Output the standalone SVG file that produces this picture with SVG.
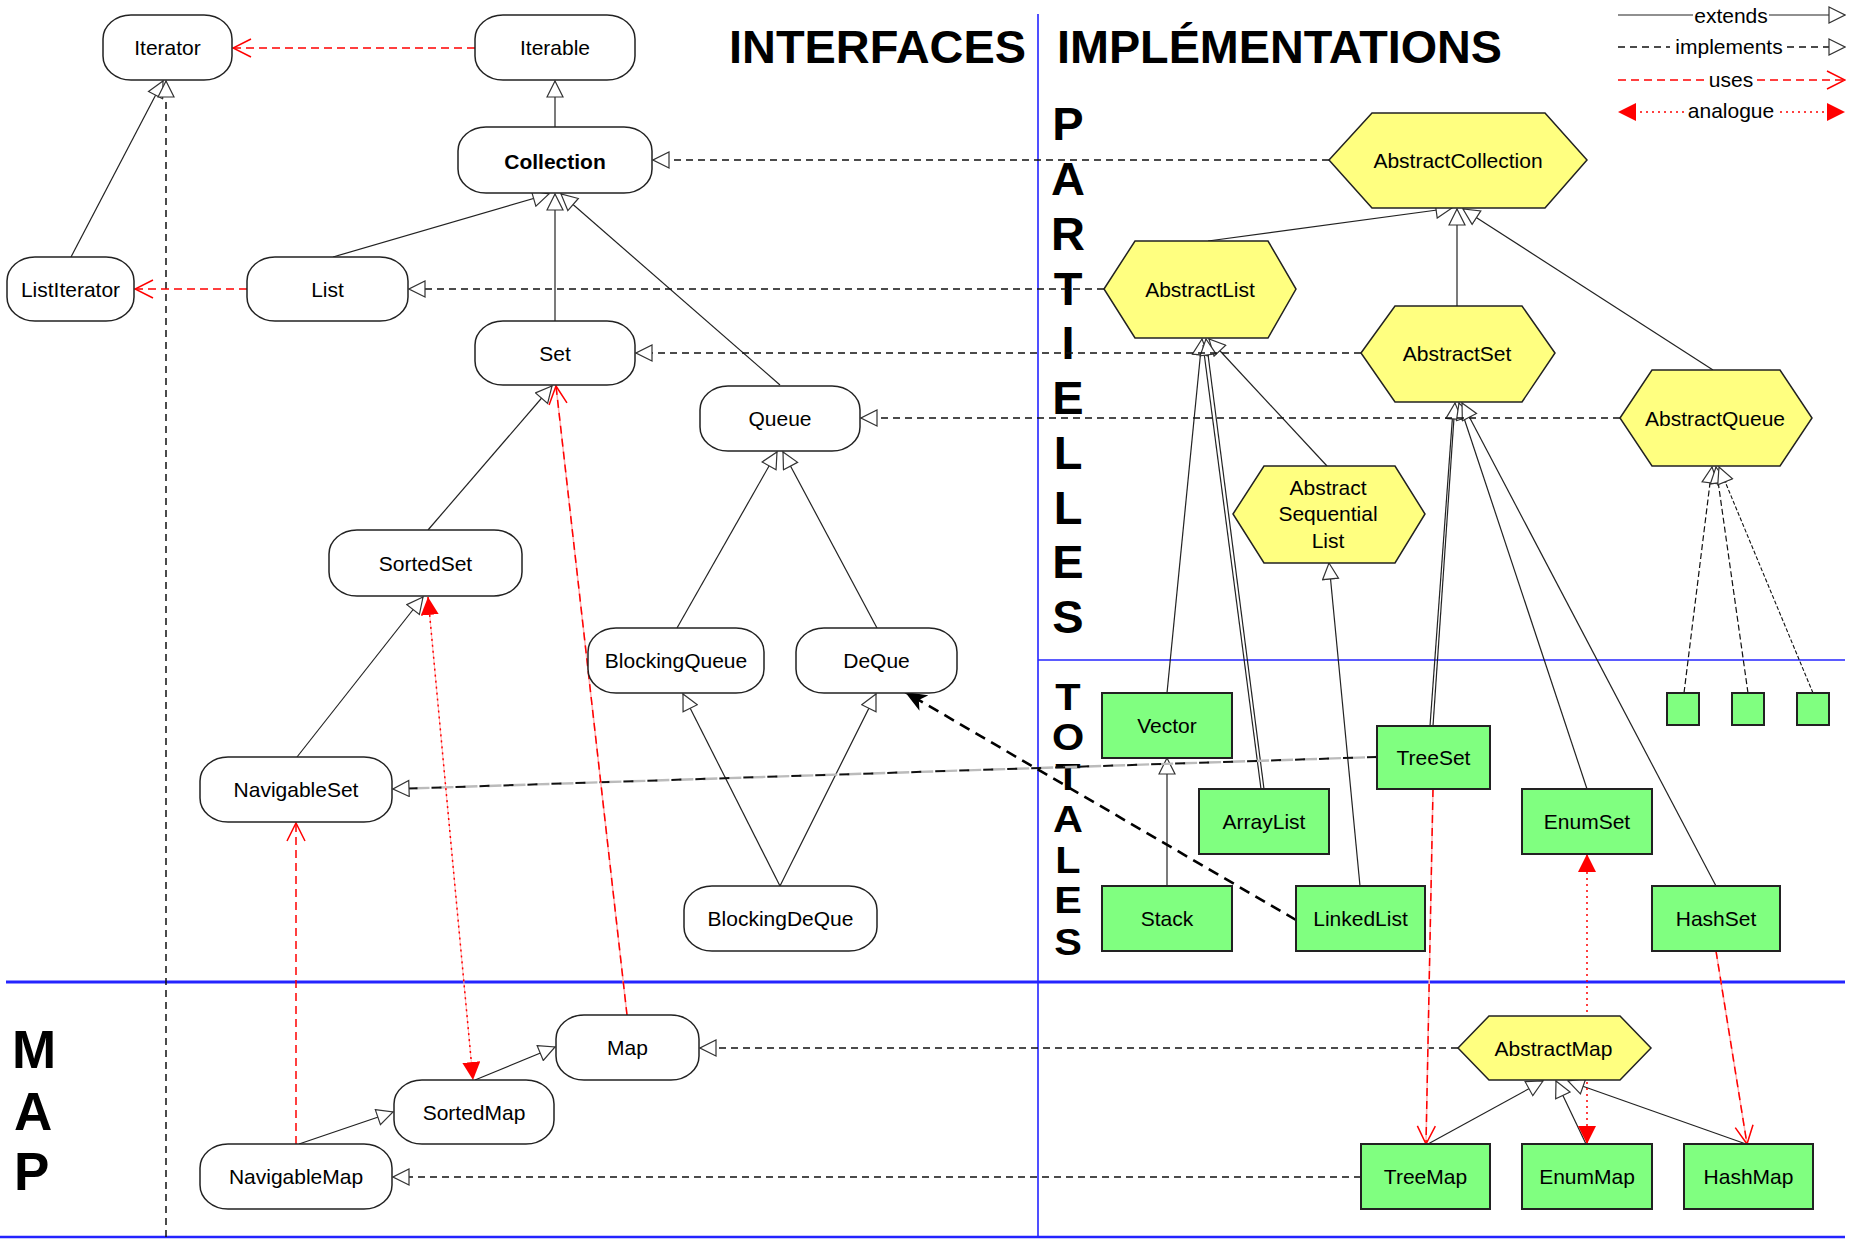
<svg xmlns="http://www.w3.org/2000/svg" width="1865" height="1239" viewBox="0 0 1865 1239">
<style>
.n{fill:#fff;stroke:#222;stroke-width:1.5}
.h{fill:#FFFF80;stroke:#222;stroke-width:1.5}
.g{fill:#80FF80;stroke:#222;stroke-width:2}
.t{font-family:"Liberation Sans",Arial,sans-serif;font-size:21px;text-anchor:middle;fill:#000}
.b{font-weight:bold}
.big{font-family:"Liberation Sans",Arial,sans-serif;font-weight:bold;fill:#000}
.ext{stroke:#222;stroke-width:1.2;fill:none;marker-end:url(#tri)}
.ln{stroke:#222;stroke-width:1.2;fill:none}
.imp{stroke:#111;stroke-width:1.5;stroke-dasharray:7 5;fill:none;marker-end:url(#tri)}
.dl{stroke:#111;stroke-width:1.5;stroke-dasharray:7 5;fill:none}
.use{stroke:#f00;stroke-width:1.5;stroke-dasharray:8 5;fill:none;marker-end:url(#open)}
.ul{stroke:#f00;stroke-width:1.5;stroke-dasharray:8 5;fill:none}
.pink{stroke:#FFB4B4;stroke-width:1.5;fill:none}
.ana{stroke:#f00;stroke-width:1.5;stroke-dasharray:2 4;fill:none;marker-start:url(#fa);marker-end:url(#fa)}
.blue{stroke:#2424FF;fill:none}
</style>
<defs>
<marker id="tri" viewBox="0 0 18 18" refX="17" refY="9" markerWidth="18" markerHeight="18" orient="auto" markerUnits="userSpaceOnUse"><path d="M1,1 L17,9 L1,17 Z" fill="#fff" stroke="#333" stroke-width="1.2"/></marker>
<marker id="open" viewBox="0 0 20 20" refX="19" refY="10" markerWidth="20" markerHeight="20" orient="auto" markerUnits="userSpaceOnUse"><path d="M1,1 L19,10 L1,19" fill="none" stroke="#f00" stroke-width="1.5"/></marker>
<marker id="fa" viewBox="0 0 18 18" refX="18" refY="9" markerWidth="18" markerHeight="18" orient="auto-start-reverse" markerUnits="userSpaceOnUse"><path d="M0,0 L18,9 L0,18 Z" fill="#f00"/></marker>
<marker id="blk" viewBox="0 0 22 18" refX="22" refY="9" markerWidth="22" markerHeight="18" orient="auto" markerUnits="userSpaceOnUse"><path d="M0,0 L22,9 L0,18 L6,9 Z" fill="#000"/></marker>
</defs>
<rect width="1865" height="1239" fill="#fff"/>

<g id="frame">
<line class="blue" x1="1038" y1="14" x2="1038" y2="1237" stroke-width="1.6"/>
<line class="blue" x1="1038" y1="660" x2="1845" y2="660" stroke-width="1.6"/>
<line class="blue" x1="6" y1="982" x2="1845" y2="982" stroke-width="3"/>
<line class="blue" x1="0" y1="1237" x2="1845" y2="1237" stroke-width="2.5"/>
</g>

<g id="titles">
<text class="big" x="729" y="63" font-size="46" textLength="297" lengthAdjust="spacingAndGlyphs">INTERFACES</text>
<text class="big" x="1057" y="63" font-size="46" textLength="445" lengthAdjust="spacingAndGlyphs">IMPLÉMENTATIONS</text>
<g class="big" font-size="47" text-anchor="middle">
<text x="1068" y="140">P</text>
<text x="1068" y="195">A</text>
<text x="1068" y="250">R</text>
<text x="1068" y="305">T</text>
<text x="1068" y="359">I</text>
<text x="1068" y="414">E</text>
<text x="1068" y="469">L</text>
<text x="1068" y="524">L</text>
<text x="1068" y="578">E</text>
<text x="1068" y="633">S</text>
</g>
<g class="big" font-size="37" text-anchor="middle" transform="translate(1068,0) scale(1.12,1)">
<text x="0" y="710">T</text>
<text x="0" y="750">O</text>
<text x="0" y="790">T</text>
<text x="0" y="832">A</text>
<text x="0" y="873">L</text>
<text x="0" y="913">E</text>
<text x="0" y="955">S</text>
</g>
<g class="big" font-size="53">
<text x="12" y="1068">M</text>
<text x="14" y="1130">A</text>
<text x="14" y="1190">P</text>
</g>
</g>

<g id="legend">
<line class="ln" x1="1618" y1="15" x2="1693" y2="15"/>
<line class="ext" x1="1769" y1="15" x2="1845" y2="15"/>
<text class="t" x="1731" y="23">extends</text>
<line class="dl" x1="1618" y1="47" x2="1670" y2="47"/>
<line class="imp" x1="1787" y1="47" x2="1845" y2="47"/>
<text class="t" x="1729" y="54">implements</text>
<line class="ul" x1="1618" y1="80" x2="1706" y2="80"/>
<line class="use" x1="1757" y1="80" x2="1845" y2="80"/>
<text class="t" x="1731" y="87">uses</text>
<path d="M1684,112 L1618,112" class="ana" style="marker-start:none"/>
<path d="M1780,112 L1845,112" class="ana" style="marker-start:none"/>
<text class="t" x="1731" y="118">analogue</text>
</g>

<g id="connectors">
<!-- extends -->
<path class="ext" d="M555,127 L555,81"/>
<path class="ext" d="M71,257 L163,81"/>
<path class="ext" d="M333,257 L549,194"/>
<path class="ext" d="M555,321 L555,194"/>
<path class="ext" d="M780,385 L561,194"/>
<path class="ext" d="M428,530 L552,386"/>
<path class="ext" d="M297,757 L423,597"/>
<path class="ext" d="M677,628 L777,452"/>
<path class="ext" d="M877,628 L783,452"/>
<path class="ext" d="M780,886 L683,694"/>
<path class="ext" d="M780,886 L876,694"/>
<path class="ext" d="M475,1080 L555,1047"/>
<path class="ext" d="M299,1144 L393,1112"/>
<path class="ext" d="M1208,241 L1452,208"/>
<path class="ext" d="M1457,306 L1457,209"/>
<path class="ext" d="M1713,370 L1463,209"/>
<path class="ext" d="M1327,466 L1209,339"/>
<path class="ext" d="M1167,693 L1202,339"/>
<path class="ln" d="M1261,789 L1203,345"/>
<path class="ext" d="M1264,789 L1206,339"/>
<path class="ext" d="M1360,886 L1329,563"/>
<path class="ext" d="M1167,886 L1167,758"/>
<path class="ln" d="M1430,726 L1453,410"/>
<path class="ext" d="M1433,726 L1455,403"/>
<path class="ext" d="M1587,789 L1459,403"/>
<path class="ext" d="M1716,886 L1462,403"/>
<path class="imp" style="stroke-dasharray:6 3;stroke-width:1.2" d="M1684,693 L1712,467"/>
<path class="imp" style="stroke-dasharray:6 3;stroke-width:1.2" d="M1748,693 L1716,467"/>
<path class="imp" style="stroke-dasharray:4 2;stroke-width:1.1" d="M1813,693 L1719,467"/>
<path class="ext" d="M1428,1144 L1543,1081"/>
<path class="ext" d="M1586,1144 L1556,1081"/>
<path class="ext" d="M1746,1144 L1568,1081"/>
<!-- implements -->
<path class="imp" d="M1329,160 L653,160"/>
<path class="imp" d="M1104,289 L409,289"/>
<path class="imp" d="M1361,353 L636,353"/>
<path class="imp" d="M1620,418 L861,418"/>
<path class="imp" d="M1458,1048 L700,1048"/>
<path class="imp" d="M1361,1177 L393,1177"/>
<path class="imp" d="M166,1237 L166,81"/>
<path d="M1377,757 L410,788.5" stroke="#BBBBBB" stroke-width="2.4" stroke-dasharray="14 10" stroke-dashoffset="12" fill="none"/>
<path class="imp" style="stroke-width:2;stroke-dasharray:10 14" d="M1377,757 L393,789"/>
<!-- uses -->
<path class="use" d="M475,48 L233,48"/>
<path class="use" d="M247,289 L135,289"/>
<path class="pink" d="M627,1015 L556,386"/>
<path class="use" d="M627,1015 L556,386"/>
<path class="use" d="M296,1144 L296,823"/>
<path class="pink" d="M1433,789 L1426,1144"/>
<path class="use" d="M1433,789 L1426,1144"/>
<path class="pink" d="M1716,951 L1747,1144"/>
<path class="use" d="M1716,951 L1747,1144"/>
<!-- analogue -->
<path class="pink" style="stroke-width:1" d="M428,597 L473,1080"/>
<path class="ana" d="M428,597 L473,1080"/>
<path class="ana" d="M1587,854 L1587,1144"/>
<!-- LinkedList implements DeQue -->
<path d="M1296,920 L905,692" stroke="#000" stroke-width="2.6" stroke-dasharray="11 7" fill="none" marker-end="url(#blk)"/>
</g>

<g id="Iterator"><rect class="n" x="103" y="15" width="129" height="65" rx="28" ry="24"/><text class="t" x="167.5" y="55">Iterator</text></g>
<g id="Iterable"><rect class="n" x="475" y="15" width="160" height="65" rx="28" ry="24"/><text class="t" x="555" y="55">Iterable</text></g>
<g id="Collection"><rect class="n" x="458" y="127" width="194" height="66" rx="28" ry="24"/><text class="t b" x="555" y="169" font-size="27">Collection</text></g>
<g id="ListIterator"><rect class="n" x="7" y="257" width="127" height="64" rx="28" ry="24"/><text class="t" x="70.5" y="296.5">ListIterator</text></g>
<g id="List"><rect class="n" x="247" y="257" width="161" height="64" rx="28" ry="24"/><text class="t" x="327.5" y="296.5">List</text></g>
<g id="Set"><rect class="n" x="475" y="321" width="160" height="64" rx="28" ry="24"/><text class="t" x="555" y="360.5">Set</text></g>
<g id="Queue"><rect class="n" x="700" y="386" width="160" height="65" rx="28" ry="24"/><text class="t" x="780" y="426">Queue</text></g>
<g id="SortedSet"><rect class="n" x="329" y="530" width="193" height="66" rx="28" ry="24"/><text class="t" x="425.5" y="570.5">SortedSet</text></g>
<g id="BlockingQueue"><rect class="n" x="588" y="628" width="176" height="65" rx="28" ry="24"/><text class="t" x="676" y="668">BlockingQueue</text></g>
<g id="DeQue"><rect class="n" x="796" y="628" width="161" height="65" rx="28" ry="24"/><text class="t" x="876.5" y="668">DeQue</text></g>
<g id="NavigableSet"><rect class="n" x="200" y="757" width="192" height="65" rx="28" ry="24"/><text class="t" x="296" y="797">NavigableSet</text></g>
<g id="BlockingDeQue"><rect class="n" x="684" y="886" width="193" height="65" rx="28" ry="24"/><text class="t" x="780.5" y="926">BlockingDeQue</text></g>
<g id="Map"><rect class="n" x="556" y="1015" width="143" height="65" rx="28" ry="24"/><text class="t" x="627.5" y="1055">Map</text></g>
<g id="SortedMap"><rect class="n" x="394" y="1080" width="160" height="64" rx="28" ry="24"/><text class="t" x="474" y="1119.5">SortedMap</text></g>
<g id="NavigableMap"><rect class="n" x="200" y="1144" width="192" height="65" rx="28" ry="24"/><text class="t" x="296" y="1184">NavigableMap</text></g>

<g id="AbstractCollection"><polygon class="h" points="1329,160 1372,113 1545,113 1587,160 1545,208 1372,208"/><text class="t" x="1458" y="168">AbstractCollection</text></g>
<g id="AbstractList"><polygon class="h" points="1104,289 1135,241 1268,241 1296,289 1268,338 1135,338"/><text class="t" x="1200" y="297">AbstractList</text></g>
<g id="AbstractSet"><polygon class="h" points="1361,353 1395,306 1522,306 1555,353 1522,402 1395,402"/><text class="t" x="1457" y="361">AbstractSet</text></g>
<g id="AbstractQueue"><polygon class="h" points="1620,418 1652,370 1780,370 1812,418 1780,466 1652,466"/><text class="t" x="1715" y="426">AbstractQueue</text></g>
<g id="AbstractSequentialList"><polygon class="h" points="1233,514 1264,466 1395,466 1425,514 1395,563 1264,563"/><text class="t" x="1328" y="494.5">Abstract</text><text class="t" x="1328" y="521">Sequential</text><text class="t" x="1328" y="547.5">List</text></g>
<g id="AbstractMap"><polygon class="h" points="1458,1048 1489,1016 1620,1016 1651,1048 1620,1080 1489,1080"/><text class="t" x="1553.5" y="1056">AbstractMap</text></g>

<g id="Vector"><rect class="g" x="1102" y="693" width="130" height="65"/><text class="t" x="1167" y="733">Vector</text></g>
<g id="ArrayList"><rect class="g" x="1199" y="789" width="130" height="65"/><text class="t" x="1264" y="829">ArrayList</text></g>
<g id="Stack"><rect class="g" x="1102" y="886" width="130" height="65"/><text class="t" x="1167" y="926">Stack</text></g>
<g id="LinkedList"><rect class="g" x="1296" y="886" width="129" height="65"/><text class="t" x="1360.5" y="926">LinkedList</text></g>
<g id="TreeSet"><rect class="g" x="1377" y="726" width="113" height="63"/><text class="t" x="1433.5" y="765">TreeSet</text></g>
<g id="EnumSet"><rect class="g" x="1522" y="789" width="130" height="65"/><text class="t" x="1587" y="829">EnumSet</text></g>
<g id="HashSet"><rect class="g" x="1652" y="886" width="128" height="65"/><text class="t" x="1716" y="926">HashSet</text></g>
<g id="TreeMap"><rect class="g" x="1361" y="1144" width="129" height="65"/><text class="t" x="1425.5" y="1184">TreeMap</text></g>
<g id="EnumMap"><rect class="g" x="1522" y="1144" width="130" height="65"/><text class="t" x="1587" y="1184">EnumMap</text></g>
<g id="HashMap"><rect class="g" x="1684" y="1144" width="129" height="65"/><text class="t" x="1748.5" y="1184">HashMap</text></g>
<g id="Queue1"><rect class="g" x="1667" y="693" width="32" height="32"/></g>
<g id="Queue2"><rect class="g" x="1732" y="693" width="32" height="32"/></g>
<g id="Queue3"><rect class="g" x="1797" y="693" width="32" height="32"/></g>
</svg>
